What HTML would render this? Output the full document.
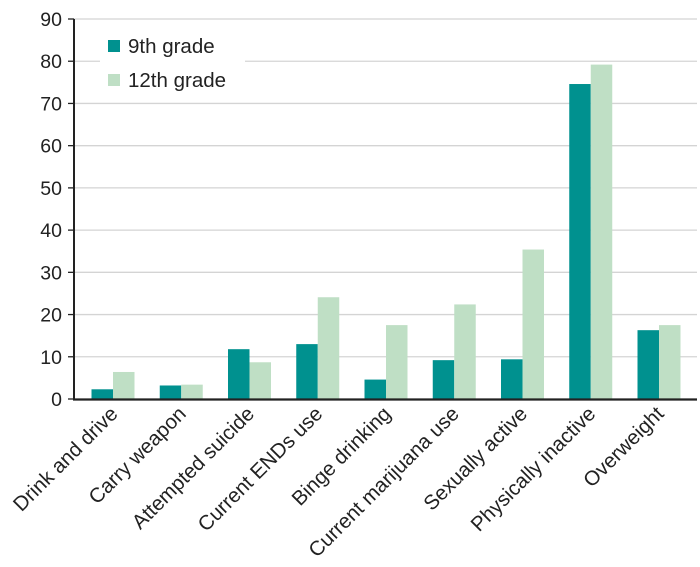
<!DOCTYPE html>
<html><head><meta charset="utf-8"><style>
body{margin:0;background:#fff}
svg{display:block;font-family:"Liberation Sans",Arial,sans-serif}
</style></head><body>
<svg id="chart" width="700" height="567"></svg>
<script>
const categories=["Drink and drive","Carry weapon","Attempted suicide","Current ENDs use","Binge drinking","Current marijuana use","Sexually active","Physically inactive","Overweight"];
const grade9=[2.3,3.2,11.8,13.0,4.6,9.2,9.4,74.6,16.3];
const grade12=[6.4,3.4,8.7,24.1,17.5,22.4,35.4,79.2,17.5];
const yTicks=[0,10,20,30,40,50,60,70,80,90];
const NS="http://www.w3.org/2000/svg";
const svg=document.getElementById('chart');
const x0=74,x1=697,y0=399,yTop=19,yMax=90;
const y=v=>y0-(v/yMax)*(y0-yTop);
const step=68.25,first=113,bw=21.5;
const xc=i=>first+step*i;
function mk(t,a){const e=document.createElementNS(NS,t);for(const k in a)e.setAttribute(k,a[k]);svg.appendChild(e);return e;}
yTicks.forEach(t=>{
  if(t>0){const g=mk('line',{x1:x0,x2:x1,y1:y(t),y2:y(t),stroke:'#d4d4d4','stroke-width':1.3});
  
  }
  const tk=mk('line',{x1:68,x2:x0,y1:y(t),y2:y(t),stroke:'#222','stroke-width':1.3});
  
  
  const l=mk('text',{x:62,y:y(t)+7,'text-anchor':'end','font-size':19.5,fill:'#222'});l.textContent=t;
  
  
});
categories.forEach((c,i)=>{
  const b1=mk('rect',{x:xc(i)-bw,y:y(grade9[i]),width:bw,height:y0-y(grade9[i]),fill:'#00918f'});
  
  
  const b2=mk('rect',{x:xc(i),y:y(grade12[i]),width:bw,height:y0-y(grade12[i]),fill:'#bfdfc5'});
  
  
  const tx=xc(i)+6,ty=415;
  const l=mk('text',{x:tx,y:ty,'text-anchor':'end','font-size':20.5,fill:'#222',transform:`rotate(-45 ${tx} ${ty})`});
  l.textContent=c;
  
  
});
const ax=mk('line',{x1:x0,x2:x0,y1:yTop,y2:y0+1,stroke:'#222','stroke-width':2});


const bx=mk('line',{x1:x0-1,x2:x1,y1:y0+0.5,y2:y0+0.5,stroke:'#222','stroke-width':2.2});


const lb=mk('rect',{x:100,y:30,width:145,height:68,fill:'#fff'});


[["9th grade",'#00918f',40],["12th grade",'#bfdfc5',74]].forEach((d,k)=>{
  const s=mk('rect',{x:108,y:d[2],width:12,height:12,fill:d[1]});
  
  
  const t=mk('text',{x:128,y:d[2]+13,'font-size':20.5,fill:'#222'});t.textContent=d[0];
  
  
});
</script>
</body></html>
